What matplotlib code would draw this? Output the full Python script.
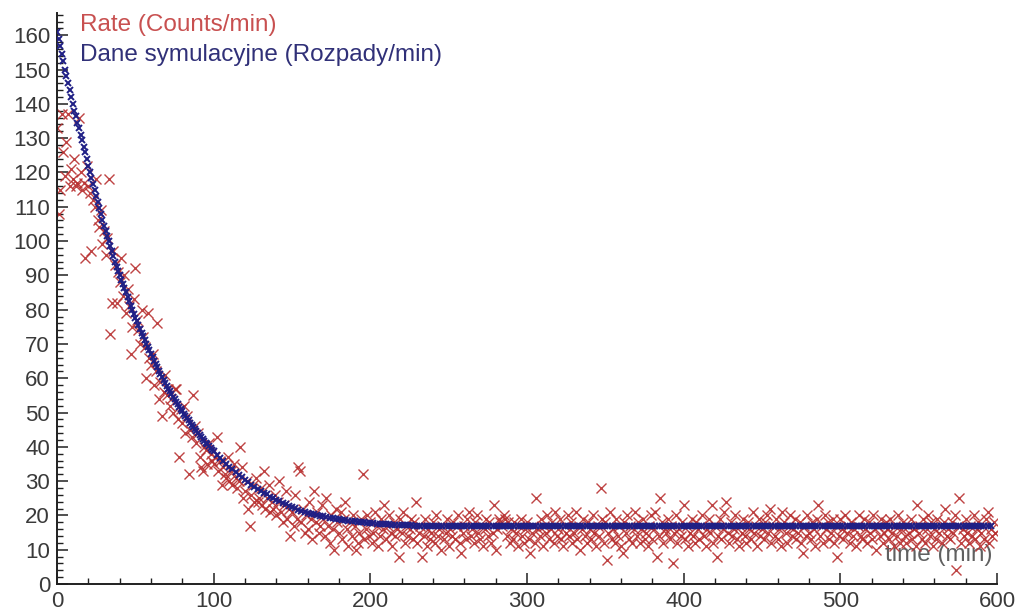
import numpy as np
import matplotlib.pyplot as plt
from matplotlib.ticker import MultipleLocator

plt.rcParams['font.family'] = ['Liberation Sans', 'DejaVu Sans']

# Rate (Counts/min) - pomiar, jeden punkt na minute (t = 0 .. 599)
rate_counts = [
    133, 108, 115, 137, 126, 119, 129, 137, 116, 121,
    118, 124, 116, 117, 136, 120, 115, 117, 95, 122,
    116, 114, 97, 112, 110, 118, 106, 104, 109, 99,
    103, 96, 101, 118, 73, 82, 97, 93, 82, 91,
    88, 95, 84, 90, 79, 86, 81, 67, 75, 83,
    92, 77, 74, 70, 80, 72, 69, 60, 79, 66,
    64, 67, 58, 62, 76, 54, 59, 49, 56, 61,
    55, 57, 52, 54, 50, 57, 57, 48, 37, 51,
    47, 52, 44, 49, 32, 45, 43, 55, 46, 41,
    44, 37, 34, 33, 40, 39, 35, 41, 38, 36,
    35, 37, 43, 33, 36, 29, 34, 32, 31, 37,
    30, 33, 29, 35, 31, 28, 30, 40, 34, 25,
    27, 30, 22, 17, 26, 29, 24, 31, 24, 25,
    28, 23, 33, 22, 25, 29, 21, 24, 22, 26,
    20, 24, 30, 21, 18, 23, 27, 19, 22, 14,
    21, 17, 26, 19, 34, 33, 18, 22, 15, 20,
    16, 24, 19, 13, 27, 18, 21, 15, 17, 23,
    19, 14, 25, 17, 12, 20, 16, 10, 22, 18,
    15, 21, 13, 19, 24, 16, 11, 18, 14, 20,
    17, 10, 12, 15, 19, 32, 13, 16, 20, 14,
    18, 12, 15, 21, 17, 11, 14, 19, 16, 23,
    13, 17, 20, 15, 11, 18, 14, 16, 8, 19,
    15, 21, 12, 17, 14, 16, 19, 13, 18, 24,
    12, 15, 17, 8, 14, 19, 11, 16, 13, 15,
    18, 12, 20, 14, 16, 10, 17, 13, 15, 19,
    11, 16, 14, 18, 13, 17, 20, 12, 9, 15,
    17, 13, 19, 21, 14, 16, 12, 18, 20, 15,
    13, 17, 11, 16, 19, 14, 18, 12, 15, 23,
    10, 16, 19, 18, 17, 20, 19, 14, 18, 12,
    16, 13, 18, 15, 11, 17, 19, 14, 12, 16,
    18, 13, 9, 15, 17, 12, 25, 16, 14, 19,
    11, 17, 15, 20, 13, 16, 18, 12, 21, 14,
    16, 19, 13, 11, 17, 15, 20, 14, 18, 12,
    15, 21, 13, 17, 10, 16, 19, 14, 12, 18,
    16, 13, 20, 15, 11, 17, 14, 28, 19, 12,
    18, 7, 15, 21, 13, 16, 12, 19, 14, 17,
    11, 9, 18, 15, 20, 13, 17, 12, 16, 21,
    14, 18, 12, 16, 19, 13, 15, 11, 17, 20,
    13, 16, 21, 8, 14, 25, 18, 12, 16, 15,
    19, 13, 17, 6, 15, 20, 12, 16, 14, 18,
    23, 13, 17, 11, 15, 19, 14, 12, 18, 16,
    13, 17, 20, 14, 11, 16, 19, 15, 23, 12,
    17, 8, 14, 19, 13, 16, 21, 24, 15, 12,
    18, 14, 16, 20, 13, 11, 17, 15, 19, 14,
    12, 18, 16, 13, 21, 15, 17, 11, 19, 14,
    16, 13, 18, 20, 15, 22, 12, 17, 14, 19,
    13, 16, 11, 21, 18, 15, 12, 17, 20, 14,
    16, 19, 13, 15, 18, 12, 9, 17, 14, 20,
    15, 13, 18, 16, 11, 19, 23, 14, 17, 12,
    20, 16, 18, 13, 15, 19, 12, 17, 8, 14,
    19, 16, 13, 20, 15, 17, 12, 18, 14, 16,
    11, 17, 20, 14, 13, 19, 16, 12, 18, 15,
    13, 20, 16, 10, 17, 14, 19, 12, 15, 18,
    16, 13, 19, 15, 11, 17, 14, 20, 12, 16,
    18, 14, 12, 17, 15, 19, 13, 16, 11, 23,
    15, 17, 13, 19, 12, 16, 20, 14, 18, 11,
    16, 13, 19, 15, 17, 12, 18, 22, 14, 16,
    13, 18, 15, 20, 4, 17, 25, 12, 16, 14,
    19, 15, 12, 17, 14, 20, 13, 16, 18, 11,
    15, 17, 13, 19, 21, 12, 16, 14, 18, 15,
]

# Dane symulacyjne (Rozpady/min), t = 0 .. 99 co minute
sim_early = [
    161, 159, 157, 154.5, 152.5, 150, 148, 146, 144, 142,
    140, 138, 136.5, 134.5, 133, 131, 129.5, 127.5, 126, 124,
    122, 120, 118.5, 116.5, 115, 113, 111.5, 109.5, 108, 106,
    104.5, 103, 101.5, 100, 98.5, 97, 95.5, 94, 92.5, 91.2,
    90, 88.7, 87.5, 86.2, 85, 83.7, 82.5, 81.2, 80, 78.8,
    77.7, 76.6, 75.5, 74.4, 73.3, 72.2, 71.2, 70.1, 69.1, 68.1,
    67.1, 66.1, 65.1, 64.1, 63.2, 62.2, 61.3, 60.4, 59.5, 58.6,
    57.8, 57, 56.2, 55.4, 54.6, 53.8, 53.1, 52.4, 51.7, 51,
    50.3, 49.6, 49, 48.3, 47.7, 47, 46.4, 45.8, 45.2, 44.6,
    44, 43.4, 42.9, 42.3, 41.8, 41.2, 40.7, 40.2, 39.7, 39.2,
]

# Dane symulacyjne (Rozpady/min), t = 100 .. 600 co 2 minuty
sim_late = [
    38.7, 37.7, 36.8, 35.9, 35, 34.2, 33.4, 32.6, 31.8, 31.1,
    30.4, 29.7, 29, 28.4, 27.8, 27.2, 26.6, 26.1, 25.5, 25,
    24.5, 24.1, 23.6, 23.2, 22.8, 22.4, 22.1, 21.7, 21.4, 21.1,
    20.8, 20.5, 20.3, 20.1, 19.9, 19.7, 19.5, 19.3, 19.2, 19.0,
    18.9, 18.7, 18.6, 18.5, 18.4, 18.3, 18.2, 18.1, 18.0, 17.9,
    17.8, 17.7, 17.6, 17.6, 17.5, 17.4, 17.4, 17.3, 17.3, 17.2,
    17.2, 17.1, 17.1, 17.1, 17.0, 17.0, 17.0, 16.9,
    16.9, 16.9, 16.9, 16.9, 16.8, 16.9, 16.9, 16.9, 16.8, 16.9,
    16.9, 16.8, 16.9, 16.9, 16.9, 16.8, 16.9, 16.9, 16.9, 16.8,
    16.9, 16.9, 16.8, 16.9, 16.9, 16.9, 16.9, 16.8, 16.9, 16.9,
    16.8, 16.9, 16.9, 16.9, 16.8, 16.9, 16.9, 16.9, 16.9, 16.8,
    16.9, 16.9, 16.8, 16.9, 16.9, 16.9, 16.8, 16.9, 16.9, 16.9,
    16.9, 16.8, 16.9, 16.9, 16.9, 16.8, 16.9, 16.9, 16.8, 16.9,
    16.9, 16.9, 16.8, 16.9, 16.9, 16.9, 16.9, 16.8, 16.9, 16.9,
    16.8, 16.9, 16.9, 16.9, 16.8, 16.9, 16.9, 16.9, 16.8, 16.9,
    16.9, 16.9, 16.9, 16.8, 16.9, 16.9, 16.8, 16.9, 16.9, 16.9,
    16.8, 16.9, 16.9, 16.9, 16.9, 16.8, 16.9, 16.9, 16.9, 16.8,
    16.9, 16.9, 16.8, 16.9, 16.9, 16.9, 16.9, 16.8, 16.9, 16.9,
    16.8, 16.9, 16.9, 16.9, 16.8, 16.9, 16.9, 16.9, 16.9, 16.8,
    16.9, 16.9, 16.8, 16.9, 16.9, 16.9, 16.8, 16.9, 16.9, 16.9,
    16.9, 16.8, 16.9, 16.9, 16.9, 16.8, 16.9, 16.9, 16.8, 16.9,
    16.9, 16.9, 16.8, 16.9, 16.9, 16.9, 16.9, 16.8, 16.9, 16.9,
    16.8, 16.9, 16.9, 16.9, 16.8, 16.9, 16.9, 16.9, 16.9, 16.8,
    16.9, 16.9, 16.8, 16.9, 16.9, 16.9, 16.8, 16.9, 16.9, 16.9,
    16.9, 16.8, 16.9, 16.9, 16.9, 16.8, 16.9, 16.9, 16.8, 16.9,
    16.9,
]

rate_t = np.arange(len(rate_counts))
sim_t = np.concatenate([np.arange(len(sim_early)),
                        100 + 2 * np.arange(len(sim_late))])
sim_rate = sim_early + sim_late

red = '#b83030'
navy = '#1f1f85'

fig = plt.figure(figsize=(10.2, 6.13), dpi=100)
ax = fig.add_axes([57 / 1020, 29 / 613, 940 / 1020, 571 / 613])

ax.text(597, 8.5, 'time (min)', ha='right', va='center', fontsize=17.5,
        color='#606060', zorder=1)

ax.plot(rate_t, rate_counts, 'x', color=red, ms=7, mew=1.0, alpha=0.9, zorder=2)
ax.plot(sim_t, sim_rate, 'x', color=navy, ms=4.5, mew=1.4, zorder=3)

ax.set_xlim(0, 600)
ax.set_ylim(0, 166.5)
ax.xaxis.set_major_locator(MultipleLocator(100))
ax.xaxis.set_minor_locator(MultipleLocator(20))
ax.yaxis.set_major_locator(MultipleLocator(10))
ax.yaxis.set_minor_locator(MultipleLocator(2))

for s in ['top', 'right']:
    ax.spines[s].set_visible(False)
for s in ['left', 'bottom']:
    ax.spines[s].set_linewidth(1.4)
    ax.spines[s].set_color('#202020')

ax.tick_params(which='major', direction='in', length=8, width=1.1,
               labelsize=16, labelcolor='#3a3a3a', color='#202020', pad=5)
ax.tick_params(which='minor', direction='in', length=4.5, width=1.0,
               color='#202020')

fig.text(80 / 1020, 1 - 25 / 613, 'Rate (Counts/min)', fontsize=17.5,
         color='#c85050', va='center')
fig.text(80 / 1020, 1 - 55 / 613, 'Dane symulacyjne (Rozpady/min)',
         fontsize=17.5, color='#303078', va='center')

fig.savefig('out.png', dpi=100)
